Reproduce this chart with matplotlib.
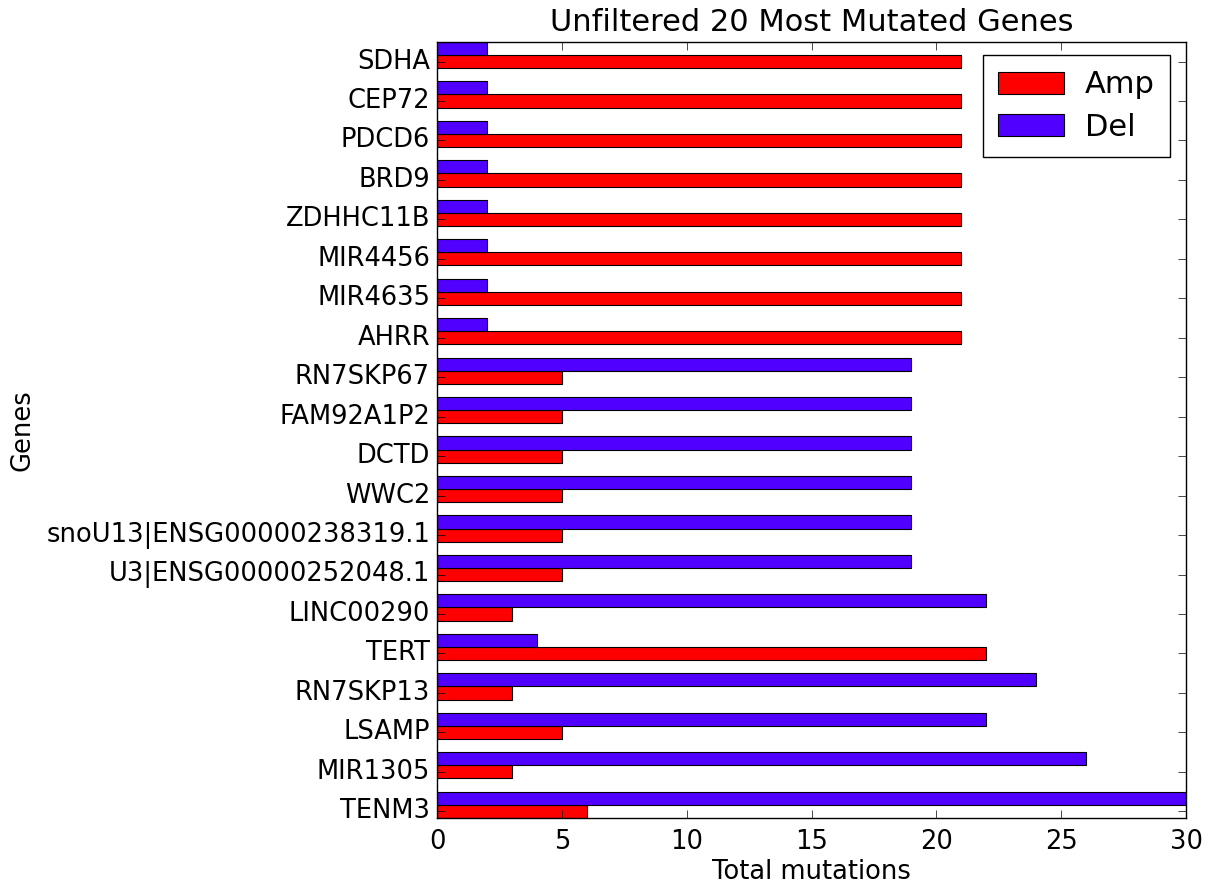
import numpy as np
import matplotlib
matplotlib.use("Agg")
import matplotlib.pyplot as plt

# genes listed bottom to top, as they stack on the y axis
genes = ["TENM3", "MIR1305", "LSAMP", "RN7SKP13", "TERT", "LINC00290",
         "U3|ENSG00000252048.1", "snoU13|ENSG00000238319.1", "WWC2", "DCTD",
         "FAM92A1P2", "RN7SKP67", "AHRR", "MIR4635", "MIR4456", "ZDHHC11B",
         "BRD9", "PDCD6", "CEP72", "SDHA"]
amp = [6, 3, 5, 3, 22, 3, 5, 5, 5, 5, 5, 5, 21, 21, 21, 21, 21, 21, 21, 21]
dele = [30, 26, 22, 24, 4, 22, 19, 19, 19, 19, 19, 19, 2, 2, 2, 2, 2, 2, 2, 2]

plt.style.use("classic")
plt.rcParams["font.family"] = ["DejaVu Sans"]

fig = plt.figure(figsize=(12.14, 8.9), dpi=100, facecolor="white")
ax = fig.add_axes([0.36, 0.081, 0.617, 0.872])

h = 1.0 / 3
pos = np.arange(len(genes))
ax.barh(pos, amp, height=h, align="center", color="#ff0000",
        edgecolor="black", linewidth=0.8, label="Amp")
ax.barh(pos + h, dele, height=h, align="center", color="#5000ff",
        edgecolor="black", linewidth=0.8, label="Del")

ax.set_yticks(pos)
ax.set_yticklabels(genes, fontsize=18.5)
ax.set_ylim(-h / 2, len(genes) - 1 + 1.5 * h)
ax.set_xlim(0, 30)
ax.set_xticks(np.arange(0, 31, 5))
ax.tick_params(axis="x", labelsize=18.5, pad=8)
ax.tick_params(axis="y", pad=5)
ax.tick_params(length=6)

ax.set_xlabel("Total mutations", fontsize=18.5, labelpad=3)
ax.set_ylabel("Genes", fontsize=18.5, labelpad=8)
ax.set_title("Unfiltered 20 Most Mutated Genes", fontsize=22, pad=8)

ax.legend(loc="upper right", bbox_to_anchor=(0.979, 0.983),
          borderaxespad=0, fontsize=22, handlelength=2.15,
          handleheight=0.72, handletextpad=0.7, borderpad=0.5,
          labelspacing=0.45, fancybox=False, frameon=True)

fig.savefig("out.png", dpi=100, facecolor="white")
